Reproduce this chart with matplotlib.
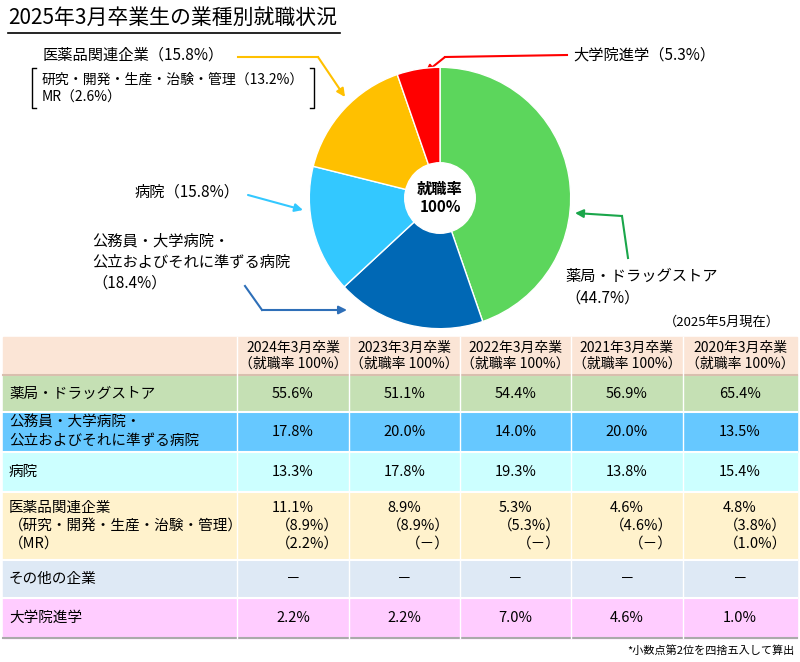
import matplotlib.pyplot as plt
from matplotlib.patches import Rectangle, Circle

plt.rcParams['font.family'] = ['Noto Sans CJK JP', 'DejaVu Sans']

# pie data (2025年3月卒業)
pie_labels = ['薬局・ドラッグストア', '公務員・大学病院・公立およびそれに準ずる病院', '病院', '医薬品関連企業', '大学院進学']
pie_values = [44.7, 18.4, 15.8, 15.8, 5.3]
pie_colors = ['#5cd65c', '#0068b5', '#33c8ff', '#ffc000', '#ff0000']

# table data
years = ['2024年3月卒業', '2023年3月卒業', '2022年3月卒業', '2021年3月卒業', '2020年3月卒業']
row_labels = ['薬局・ドラッグストア', '公務員・大学病院・\n公立およびそれに準ずる病院', '病院',
              '医薬品関連企業\n（研究・開発・生産・治験・管理）\n（MR）', 'その他の企業', '大学院進学']
pharmacy = ['55.6%', '51.1%', '54.4%', '56.9%', '65.4%']
public = ['17.8%', '20.0%', '14.0%', '20.0%', '13.5%']
hospital = ['13.3%', '17.8%', '19.3%', '13.8%', '15.4%']
pharma = ['11.1%', '8.9%', '5.3%', '4.6%', '4.8%']
pharma_research = ['（8.9%）', '（8.9%）', '（5.3%）', '（4.6%）', '（3.8%）']
pharma_mr = ['（2.2%）', '（－）', '（－）', '（－）', '（1.0%）']
other = ['－', '－', '－', '－', '－']
grad = ['2.2%', '2.2%', '7.0%', '4.6%', '1.0%']
row_colors = ['#c5e0b4', '#66c8ff', '#ccffff', '#fff2cc', '#dee9f5', '#ffccff']

fig = plt.figure(figsize=(8, 6.62), dpi=100)
ax = fig.add_axes([0, 0, 1, 1])
ax.set_xlim(0, 800)
ax.set_ylim(662, 0)
ax.axis('off')

# title
ax.text(8, 18, '2025年3月卒業生の業種別就職状況', fontsize=15, va='center', ha='left')
ax.plot([8, 340], [33, 33], color='black', lw=1.2)

# pie
pax = fig.add_axes([(440 - 132) / 800, (662 - 330) / 662, 264 / 800, 264 / 662])
pax.pie(pie_values, colors=pie_colors, startangle=90, counterclock=False,
        wedgeprops=dict(edgecolor='white', linewidth=1))
pax.add_patch(Circle((0, 0), 0.27, color='white', zorder=5))
pax.text(0, 0, '就職率\n100%', ha='center', va='center', fontsize=11, fontweight='bold', zorder=6)
pax.set_xlim(-1.01, 1.01)
pax.set_ylim(-1.01, 1.01)
pax.set_aspect('equal')


def leader(pts, color):
    xs, ys = zip(*pts[:-1])
    ax.plot(xs, ys, color=color, lw=1.5)
    ax.annotate('', xy=pts[-1], xytext=pts[-2],
                arrowprops=dict(arrowstyle='-|>', color=color, lw=1.5, mutation_scale=12,
                                shrinkA=0, shrinkB=0))


# pie labels
ax.text(42, 55, '医薬品関連企業（15.8%）', fontsize=11, va='center')
ax.text(42, 80, '研究・開発・生産・治験・管理（13.2%）', fontsize=10, va='center')
ax.text(42, 98, 'MR（2.6%）', fontsize=10, va='center')
ax.plot([36, 32, 32, 36], [68, 68, 108, 108], color='black', lw=1)
ax.plot([310, 314, 314, 310], [68, 68, 108, 108], color='black', lw=1)
leader([(238, 57), (318, 57), (345, 97)], '#ffc000')
ax.text(573, 55, '大学院進学（5.3%）', fontsize=11, va='center')
leader([(567, 55), (445, 57), (425, 73)], '#ff0000')
ax.text(135, 192, '病院（15.8%）', fontsize=11, va='center')
leader([(248, 195), (303, 210)], '#33c8ff')
ax.text(92, 262, '公務員・大学病院・\n公立およびそれに準ずる病院\n（18.4%）', fontsize=11,
        va='center', linespacing=1.3)
leader([(245, 286), (262, 310), (347, 310)], '#2e6fb8')
ax.text(565, 287, '薬局・ドラッグストア\n（44.7%）', fontsize=11, va='center', linespacing=1.4)
leader([(628, 258), (622, 216), (575, 213)], '#1aa64a')
ax.text(780, 322, '（2025年5月現在）', fontsize=9.5, ha='right', va='center')

# table
col_x = [3, 237, 349, 460, 571, 683, 797]
row_y = [337, 375, 412, 452, 492, 560, 598, 638]
ax.add_patch(Rectangle((col_x[0], row_y[0]), col_x[-1] - col_x[0], row_y[1] - row_y[0], color='#fbe5d6'))
for i, yr in enumerate(years):
    cx = (col_x[i + 1] + col_x[i + 2]) / 2
    ax.text(cx, (row_y[0] + row_y[1]) / 2, yr + '\n（就職率 100%）', ha='center', va='center',
            fontsize=10, linespacing=1.2)

rows = [pharmacy, public, hospital, pharma, other, grad]
for r, vals in enumerate(rows):
    y0, y1 = row_y[r + 1], row_y[r + 2]
    ax.add_patch(Rectangle((col_x[0], y0), col_x[-1] - col_x[0], y1 - y0, color=row_colors[r]))
    ax.text(col_x[0] + 6, (y0 + y1) / 2, row_labels[r], ha='left', va='center', fontsize=10.5,
            linespacing=1.35)
    for i, v in enumerate(vals):
        cx = (col_x[i + 1] + col_x[i + 2]) / 2
        if r == 3:
            ax.text(cx, y0 + 16, v, ha='center', va='center', fontsize=10.5)
            ax.text(col_x[i + 2] - 10, y0 + 34, pharma_research[i], ha='right', va='center', fontsize=10.5)
            ax.text(col_x[i + 2] - 10, y0 + 52, pharma_mr[i], ha='right', va='center', fontsize=10.5)
        else:
            ax.text(cx, (y0 + y1) / 2, v, ha='center', va='center', fontsize=10.5)

for y in row_y[1:-1]:
    ax.plot([col_x[0], col_x[-1]], [y, y], color='white', lw=1.5)
ax.plot([col_x[0], col_x[-1]], [row_y[1], row_y[1]], color='#d9bfae', lw=1.5)
ax.plot([col_x[0], col_x[-1]], [row_y[-1], row_y[-1]], color='#aaaaaa', lw=1.5)
for x in col_x[1:-1]:
    ax.plot([x, x], [row_y[0], row_y[-1]], color='white', lw=1)

ax.text(795, 650, '*小数点第2位を四捨五入して算出', fontsize=8, ha='right', va='center')

fig.savefig('out.png', dpi=100)
